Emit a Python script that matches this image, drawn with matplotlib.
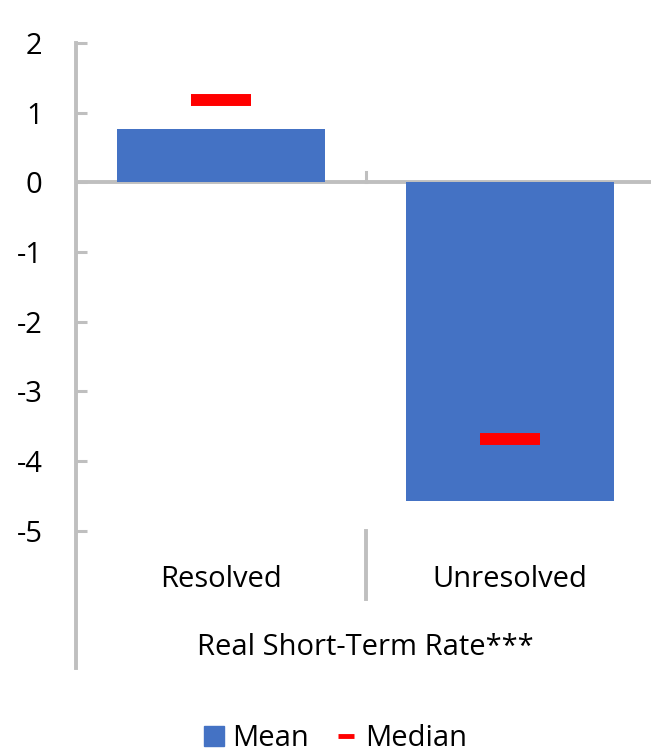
import matplotlib.pyplot as plt
from matplotlib.lines import Line2D

plt.rcParams['font.family'] = ['Open Sans', 'DejaVu Sans']

kategorije = ['Resolved', 'Unresolved']
povprecje = [0.76, -4.57]
mediana = [1.18, -3.69]
skupina = 'Real Short-Term Rate***'
yticki = [2, 1, 0, -1, -2, -3, -4, -5]

modra = '#4472C4'
rdeca = '#FF0000'
siva = '#BFBFBF'
fs = 21

W, H = 651, 753
fig = plt.figure(figsize=(W / 100, H / 100), dpi=100)
# os: levo x=76px, desno ~655px, y=2 pri 43px, y=-6.97 pri 668px
ax = fig.add_axes([76 / W, (H - 668) / H, (655 - 76) / W, (668 - 43) / H])

x = range(len(kategorije))
ax.bar(x, povprecje, width=0.72, color=modra, zorder=2)
ax.plot(x, mediana, linestyle='none', marker='_', markersize=43,
        markeredgewidth=8.6, color=rdeca, zorder=3)

ax.set_xlim(-0.5, 1.5)
ax.set_ylim(-6.97, 2)
ax.set_yticks(yticki)
ax.set_yticklabels([str(v) for v in yticki])
ax.tick_params(axis='y', direction='in', length=8, width=2.2, color=siva,
               pad=24, labelsize=fs)
ax.set_xticks([])

for s in ['top', 'right', 'bottom']:
    ax.spines[s].set_visible(False)
ax.spines['left'].set_color(siva)
ax.spines['left'].set_linewidth(2.8)

# os x pri nicli
ax.axhline(0, color=siva, linewidth=2.8, zorder=1)
ax.plot([0.5, 0.5], [0, 0.15], color=siva, linewidth=2.2, clip_on=False)

# kategorije (vecnivojska os)
for i, k in enumerate(kategorije):
    ax.text(i, -5.7, k, ha='center', va='center', fontsize=fs)
ax.plot([0.5, 0.5], [-5.0, -5.98], color=siva, linewidth=2.8, clip_on=False)
ax.text(0.5, -6.67, skupina, ha='center', va='center', fontsize=fs)

rocaji = [Line2D([], [], linestyle='none', marker='s', markersize=14,
                 color=modra),
          Line2D([], [], linestyle='none', marker='_', markersize=12,
                 markeredgewidth=3.5, color=rdeca)]
fig.legend(rocaji, ['Mean', 'Median'], loc='center', ncol=2,
           bbox_to_anchor=(335 / W, (H - 739) / H), frameon=False,
           fontsize=fs, handlelength=0.7, handletextpad=0.3,
           columnspacing=0.9)

plt.savefig('out.png', dpi=100)
